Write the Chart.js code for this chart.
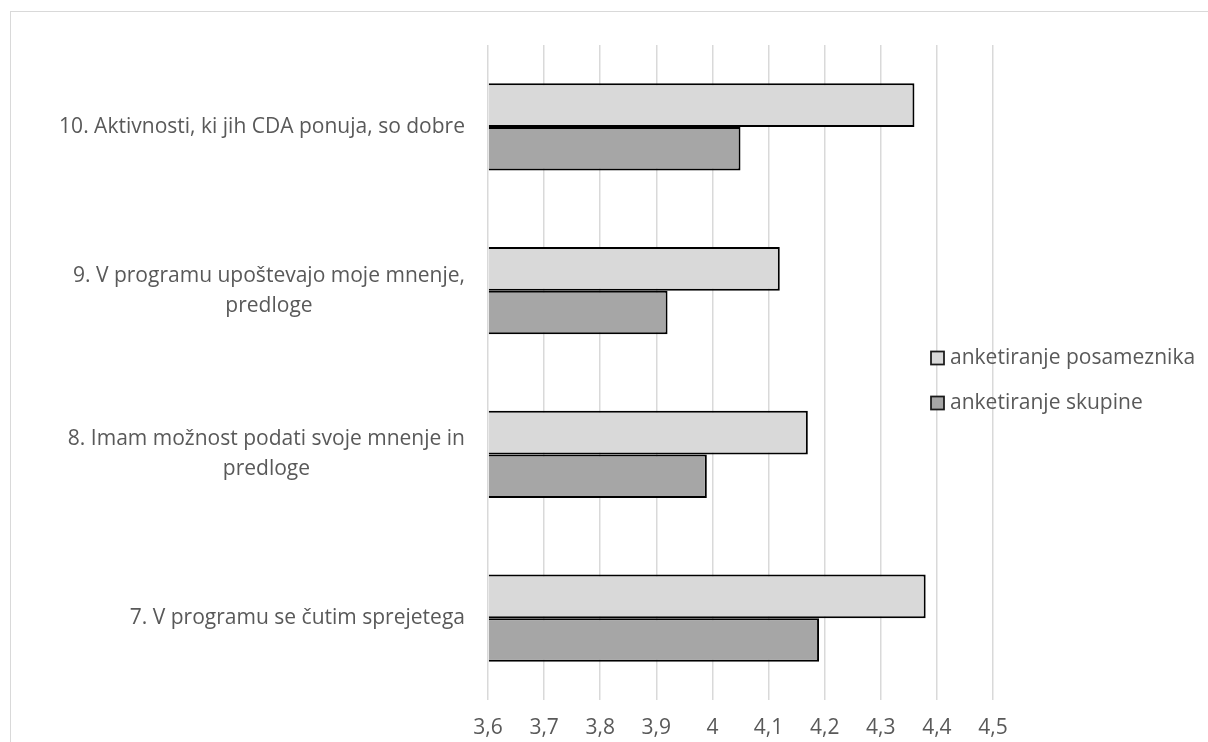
<!DOCTYPE html>
<html>
<head>
<meta charset="utf-8">
<script src="https://cdn.jsdelivr.net/npm/chart.js@4.4.1/dist/chart.umd.min.js"></script>
<style>
html,body{margin:0;padding:0;background:#fff;overflow:hidden;}
#wrap{position:relative;width:1208px;height:742px;}
#frame{position:absolute;left:10px;top:11px;width:1300px;height:800px;border:1.5px solid #d9d9d9;box-sizing:border-box;pointer-events:none;}
canvas{position:absolute;left:0;top:0;}
</style>
</head>
<body>
<div id="wrap"><canvas id="chart" width="1208" height="742"></canvas><div id="frame"></div></div>
<script>
// --- Data ---
const categories = [
  ['10. Aktivnosti, ki jih CDA ponuja, so dobre'],
  ['9. V programu upoštevajo moje mnenje,', 'predloge'],
  ['8. Imam možnost podati svoje mnenje in', 'predloge'],
  ['7. V programu se čutim sprejetega']
];
const seriesNames = ['anketiranje posameznika', 'anketiranje skupine'];
const posameznika = [4.36, 4.12, 4.17, 4.38];
const skupine = [4.05, 3.92, 3.99, 4.19];
const xTickValues = [3.6, 3.7, 3.8, 3.9, 4.0, 4.1, 4.2, 4.3, 4.4, 4.5];
const xTickLabels = ['3,6', '3,7', '3,8', '3,9', '4', '4,1', '4,2', '4,3', '4,4', '4,5'];

// --- Style ---
const FONT_FAMILY = '"Open Sans", "Noto Sans", sans-serif';
const TEXT_COLOR = '#595959';
function fitFontSize(text, targetWidth){
  const c = document.createElement('canvas').getContext('2d');
  c.font = `100px ${FONT_FAMILY}`;
  return 100 * targetWidth / c.measureText(text).width;
}
const FS = fitFontSize(categories[0][0], 406);

// --- Category labels: block right-aligned, lines centered ---
const yLabelPlugin = {
  id: 'yLabels',
  afterDraw(chart){
    const {ctx, chartArea} = chart;
    const y = chart.scales.y;
    ctx.save();
    ctx.font = `${FS}px ${FONT_FAMILY}`;
    ctx.fillStyle = TEXT_COLOR;
    ctx.textAlign = 'center';
    ctx.textBaseline = 'middle';
    const right = chartArea.left - 23;
    const lh = 30;
    categories.forEach((lines, i) => {
      const yc = y.getPixelForValue(i);
      const w = Math.max(...lines.map(l => ctx.measureText(l).width));
      const cx = right - w / 2;
      lines.forEach((l, j) => ctx.fillText(l, cx, yc + (j - (lines.length - 1) / 2) * lh));
    });
    ctx.restore();
  }
};

// --- Legend over the plot, right side ---
const legendPlugin = {
  id: 'sideLegend',
  afterDraw(chart){
    const ctx = chart.ctx;
    ctx.save();
    ctx.font = `${FS}px ${FONT_FAMILY}`;
    ctx.textAlign = 'left';
    ctx.textBaseline = 'middle';
    chart.data.datasets.forEach((ds, i) => {
      const yc = 358 + i * 45;
      ctx.fillStyle = ds.backgroundColor;
      ctx.fillRect(931, yc - 6.5, 13, 13);
      ctx.strokeStyle = '#1a1a1a';
      ctx.lineWidth = 1.75;
      ctx.strokeRect(931, yc - 6.5, 13, 13);
      ctx.fillStyle = TEXT_COLOR;
      ctx.fillText(ds.label, 950, yc);
    });
    ctx.restore();
  }
};

new Chart(document.getElementById('chart'), {
  type: 'bar',
  data: {
    labels: categories,
    datasets: [
      {label: seriesNames[0], data: posameznika, backgroundColor: '#d9d9d9'},
      {label: seriesNames[1], data: skupine, backgroundColor: '#a6a6a6'}
    ]
  },
  options: {
    indexAxis: 'y',
    responsive: false,
    animation: false,
    datasets: {
      bar: {base: xTickValues[0], borderColor: '#000', borderWidth: 2, categoryPercentage: 0.532, barPercentage: 1}
    },
    layout: {padding: {left: 0, top: 45, right: 215, bottom: 0}},
    plugins: {legend: {display: false}, tooltip: {enabled: false}},
    scales: {
      x: {
        type: 'linear',
        min: xTickValues[0],
        max: xTickValues[xTickValues.length - 1],
        afterBuildTicks: s => { s.ticks = xTickValues.map(v => ({value: v})); },
        afterFit: s => { s.height = 42; },
        grid: {color: '#d9d9d9', lineWidth: 1.5, drawTicks: false},
        border: {display: false},
        ticks: {
          color: TEXT_COLOR,
          font: {family: FONT_FAMILY, size: FS},
          padding: 15,
          maxRotation: 0,
          callback: (v, i) => xTickLabels[i]
        }
      },
      y: {
        grid: {display: false},
        border: {display: false},
        ticks: {display: false},
        afterFit: s => { s.width = 488; }
      }
    }
  },
  plugins: [yLabelPlugin, legendPlugin]
});
</script>
</body>
</html>
